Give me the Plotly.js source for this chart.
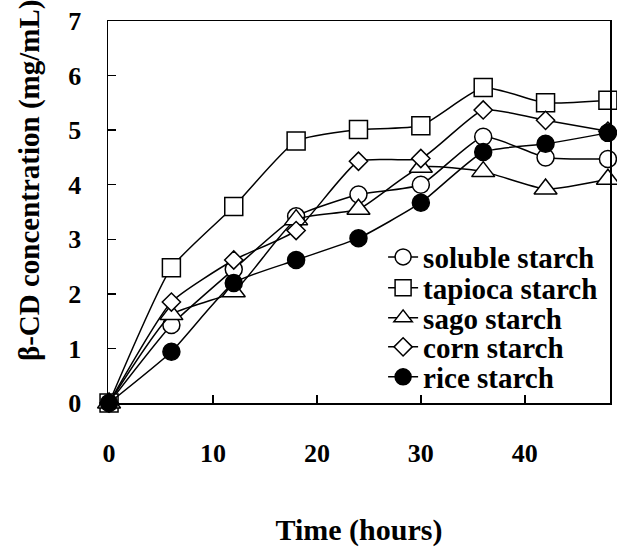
<!DOCTYPE html>
<html>
<head>
<meta charset="utf-8">
<script src="https://cdn.plot.ly/plotly-3.0.1.min.js"></script>
<style>html,body{margin:0;padding:0;background:#fff;}#chart{width:617px;height:554px;}</style>
</head>
<body>
<div id="chart"></div>
<script>
const hours = [0, 6, 12, 18, 24, 30, 36, 42, 48];
const soluble = [0, 1.43, 2.45, 3.42, 3.82, 4.0, 4.88, 4.5, 4.47];
const tapioca = [0, 2.48, 3.6, 4.8, 5.01, 5.08, 5.78, 5.5, 5.55];
const sago = [0, 1.62, 2.04, 3.36, 3.55, 4.32, 4.24, 3.92, 4.1];
const corn = [0, 1.85, 2.62, 3.16, 4.43, 4.48, 5.37, 5.18, 4.98];
const rice = [0, 0.94, 2.2, 2.62, 3.02, 3.67, 4.6, 4.75, 4.95];
const seriesNames = ['soluble starch', 'tapioca starch', 'sago starch', 'corn starch', 'rice starch'];
const xTicks = [0, 10, 20, 30, 40];
const yTicks = [0, 1, 2, 3, 4, 5, 6, 7];

const FONT = 'Liberation Serif, Times New Roman, serif';
const styles = [
  {symbol: 'circle', size: 17, color: '#fff'},
  {symbol: 'square', size: 18, color: '#fff'},
  {symbol: 'triangle-up', size: 20, color: '#fff'},
  {symbol: 'diamond', size: 14, color: '#fff'},
  {symbol: 'circle', size: 17, color: '#000'}
];
const data = [soluble, tapioca, sago, corn, rice];
const legendIds = ['legend', 'legend2', 'legend3', 'legend4', 'legend5'];
const traces = data.map((ys, i) => ({
  x: hours, y: ys, name: seriesNames[i], type: 'scatter', mode: 'lines+markers',
  legend: legendIds[i],
  line: {color: '#000', width: 1.5, shape: 'spline', smoothing: 0.5},
  marker: {symbol: styles[i].symbol, size: styles[i].size, color: styles[i].color, line: {color: '#000', width: 1.5}},
  cliponaxis: false
}));

const legendY = [0.382, 0.301, 0.2225, 0.1466, 0.068];
const legendBase = {
  x: 0.548, xanchor: 'left', yanchor: 'middle', bgcolor: 'rgba(0,0,0,0)', borderwidth: 0,
  font: {family: FONT, size: 29, color: '#000', weight: 'bold'}, itemclick: false
};
const layout = {
  width: 617, height: 554,
  margin: {l: 108, r: 7, t: 21, b: 151},
  paper_bgcolor: '#fff', plot_bgcolor: '#fff',
  font: {family: FONT, color: '#000'},
  showlegend: true,
  xaxis: {
    range: [-0.1, 48.2], tickvals: xTicks, ticktext: xTicks.map(String),
    ticks: 'inside', ticklen: 8, tickwidth: 1.5, tickcolor: '#000',
    showline: true, linecolor: '#000', linewidth: 1.5, mirror: true,
    showgrid: false, zeroline: false,
    tickfont: {family: FONT, size: 26, color: '#000', weight: 'bold'},
    ticklabelstandoff: 26,
    title: {text: 'Time (hours)', font: {family: FONT, size: 30, color: '#000', weight: 'bold'}, standoff: 52}
  },
  yaxis: {
    range: [0, 7], tickvals: yTicks, ticktext: yTicks.map(String),
    ticks: 'inside', ticklen: 8, tickwidth: 1.5, tickcolor: '#000',
    showline: true, linecolor: '#000', linewidth: 1.5, mirror: true,
    showgrid: false, zeroline: false,
    tickfont: {family: FONT, size: 26, color: '#000', weight: 'bold'},
    ticklabelstandoff: 20
  },
  annotations: [{
    text: 'β-CD concentration (mg/mL)', textangle: -90, xref: 'paper', yref: 'paper',
    x: -0.155, y: 0.584, xanchor: 'center', yanchor: 'middle', showarrow: false,
    font: {family: FONT, size: 29, color: '#000', weight: 'bold'}
  }]
};
legendIds.forEach((id, i) => { layout[id] = Object.assign({}, legendBase, {y: legendY[i]}); });

Plotly.newPlot('chart', traces, layout, {displayModeBar: false, staticPlot: true});
</script>
</body>
</html>
